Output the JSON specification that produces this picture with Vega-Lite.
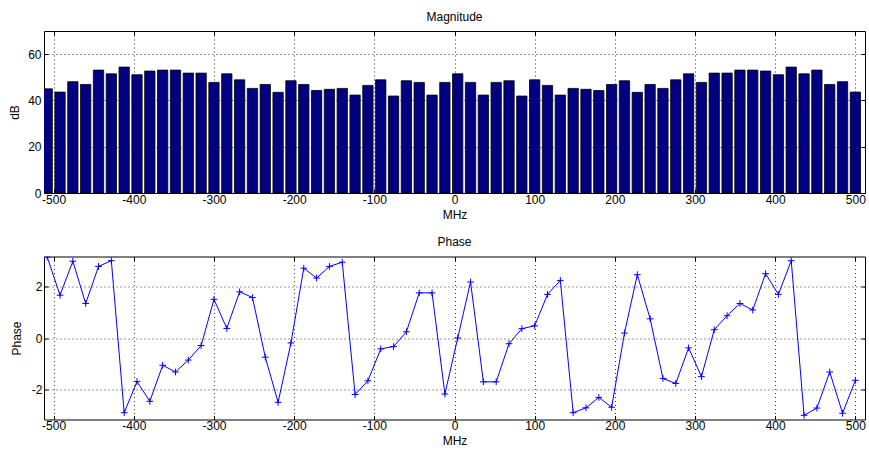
{
  "$schema": "https://vega.github.io/schema/vega-lite/v6.json",
  "background": "white",
  "padding": {"left": 8, "top": 10, "right": 0, "bottom": 2},
  "spacing": 63.5,
  "bounds": "flush",
  "config": {
    "font": "Liberation Sans",
    "view": {"stroke": "black", "strokeWidth": 1},
    "axis": {
      "labelFont": "Liberation Sans", "labelFontSize": 12, "labelColor": "black",
      "labelExpr": "replace(datum.label, '\u2212', '-')",
      "titleFont": "Liberation Sans", "titleFontSize": 12, "titleFontWeight": "normal", "titleColor": "black",
      "domain": false,
      "ticks": true, "tickSize": -4, "tickColor": "black", "tickWidth": 1,
      "grid": true, "gridColor": "black", "gridDash": [1, 3], "gridWidth": 1, "gridOpacity": 0.8,
      "labelPadding": 6
    },
    "title": {"font": "Liberation Sans", "fontSize": 12, "fontWeight": "normal", "color": "black", "offset": 7, "baseline": "alphabetic", "frame": "group", "anchor": "middle"}
  },
  "datasets": {
    "mag": [
      {"mhz": -508, "db": 45.0}, {"mhz": -492, "db": 43.6}, {"mhz": -476, "db": 48.1}, {"mhz": -460, "db": 46.9},
      {"mhz": -444, "db": 53.1}, {"mhz": -428, "db": 51.5}, {"mhz": -412, "db": 54.4}, {"mhz": -396, "db": 51.1},
      {"mhz": -380, "db": 52.7}, {"mhz": -364, "db": 53.1}, {"mhz": -348, "db": 53.1}, {"mhz": -332, "db": 51.8},
      {"mhz": -316, "db": 51.8}, {"mhz": -300, "db": 47.8}, {"mhz": -284, "db": 51.5}, {"mhz": -268, "db": 48.9},
      {"mhz": -252, "db": 45.2}, {"mhz": -236, "db": 46.9}, {"mhz": -220, "db": 43.5}, {"mhz": -204, "db": 48.5},
      {"mhz": -188, "db": 46.9}, {"mhz": -172, "db": 44.3}, {"mhz": -156, "db": 44.8}, {"mhz": -140, "db": 45.2},
      {"mhz": -124, "db": 42.3}, {"mhz": -108, "db": 46.5}, {"mhz": -92, "db": 48.9}, {"mhz": -76, "db": 41.9},
      {"mhz": -60, "db": 48.5}, {"mhz": -44, "db": 47.8}, {"mhz": -28, "db": 42.3}, {"mhz": -12, "db": 47.8},
      {"mhz": 4, "db": 51.5}, {"mhz": 20, "db": 47.8}, {"mhz": 36, "db": 42.3}, {"mhz": 52, "db": 47.8},
      {"mhz": 68, "db": 48.5}, {"mhz": 84, "db": 41.9}, {"mhz": 100, "db": 48.9}, {"mhz": 116, "db": 46.5},
      {"mhz": 132, "db": 42.3}, {"mhz": 148, "db": 45.2}, {"mhz": 164, "db": 44.8}, {"mhz": 180, "db": 44.3},
      {"mhz": 196, "db": 46.9}, {"mhz": 212, "db": 48.5}, {"mhz": 228, "db": 43.5}, {"mhz": 244, "db": 46.9},
      {"mhz": 260, "db": 45.2}, {"mhz": 276, "db": 48.9}, {"mhz": 292, "db": 51.5}, {"mhz": 308, "db": 47.8},
      {"mhz": 324, "db": 51.8}, {"mhz": 340, "db": 51.8}, {"mhz": 356, "db": 53.1}, {"mhz": 372, "db": 53.1},
      {"mhz": 388, "db": 52.7}, {"mhz": 404, "db": 51.1}, {"mhz": 420, "db": 54.4}, {"mhz": 436, "db": 51.5},
      {"mhz": 452, "db": 53.1}, {"mhz": 468, "db": 46.9}, {"mhz": 484, "db": 48.1}, {"mhz": 500, "db": 43.6}
    ],
    "phase": [
      {"mhz": -508, "phase": 3.12}, {"mhz": -492, "phase": 1.65}, {"mhz": -476, "phase": 2.96}, {"mhz": -460, "phase": 1.33},
      {"mhz": -444, "phase": 2.76}, {"mhz": -428, "phase": 2.98}, {"mhz": -412, "phase": -2.88}, {"mhz": -396, "phase": -1.68},
      {"mhz": -380, "phase": -2.44}, {"mhz": -364, "phase": -1.05}, {"mhz": -348, "phase": -1.31}, {"mhz": -332, "phase": -0.85},
      {"mhz": -316, "phase": -0.29}, {"mhz": -300, "phase": 1.49}, {"mhz": -284, "phase": 0.37}, {"mhz": -268, "phase": 1.78},
      {"mhz": -252, "phase": 1.56}, {"mhz": -236, "phase": -0.74}, {"mhz": -220, "phase": -2.48}, {"mhz": -204, "phase": -0.19},
      {"mhz": -188, "phase": 2.69}, {"mhz": -172, "phase": 2.31}, {"mhz": -156, "phase": 2.76}, {"mhz": -140, "phase": 2.92},
      {"mhz": -124, "phase": -2.18}, {"mhz": -108, "phase": -1.65}, {"mhz": -92, "phase": -0.42}, {"mhz": -76, "phase": -0.33},
      {"mhz": -60, "phase": 0.24}, {"mhz": -44, "phase": 1.74}, {"mhz": -28, "phase": 1.74}, {"mhz": -12, "phase": -2.16},
      {"mhz": 4, "phase": 0.0}, {"mhz": 20, "phase": 2.16}, {"mhz": 36, "phase": -1.69}, {"mhz": 52, "phase": -1.69},
      {"mhz": 68, "phase": -0.22}, {"mhz": 84, "phase": 0.36}, {"mhz": 100, "phase": 0.47}, {"mhz": 116, "phase": 1.68},
      {"mhz": 132, "phase": 2.22}, {"mhz": 148, "phase": -2.88}, {"mhz": 164, "phase": -2.69}, {"mhz": 180, "phase": -2.29},
      {"mhz": 196, "phase": -2.67}, {"mhz": 212, "phase": 0.19}, {"mhz": 228, "phase": 2.44}, {"mhz": 244, "phase": 0.74},
      {"mhz": 260, "phase": -1.56}, {"mhz": 276, "phase": -1.75}, {"mhz": 292, "phase": -0.38}, {"mhz": 308, "phase": -1.49},
      {"mhz": 324, "phase": 0.32}, {"mhz": 340, "phase": 0.86}, {"mhz": 356, "phase": 1.33}, {"mhz": 372, "phase": 1.08},
      {"mhz": 388, "phase": 2.48}, {"mhz": 404, "phase": 1.68}, {"mhz": 420, "phase": 2.98}, {"mhz": 436, "phase": -2.98},
      {"mhz": 452, "phase": -2.70}, {"mhz": 468, "phase": -1.31}, {"mhz": 484, "phase": -2.90}, {"mhz": 500, "phase": -1.63}
    ]
  },
  "vconcat": [
    {
      "title": "Magnitude",
      "width": 821,
      "height": 162,
      "data": {"name": "mag"},
      "encoding": {
        "x": {"field": "mhz", "type": "quantitative",
              "scale": {"domain": [-512, 512], "nice": false, "zero": false, "padding": 0},
              "axis": {"values": [-500, -400, -300, -200, -100, 0, 100, 200, 300, 400, 500], "title": "MHz", "titlePadding": 4, "labelPadding": 5}},
        "y": {"field": "db", "type": "quantitative",
              "scale": {"domain": [0, 70], "nice": false, "padding": 0},
              "axis": {"values": [0, 20, 40, 60], "title": "dB", "titlePadding": 6, "labelPadding": 7}}
      },
      "layer": [
        {"mark": {"type": "bar", "orient": "vertical", "size": 10.3, "fill": "#000080", "stroke": "#000000", "strokeWidth": 0.8, "clip": true}},
        {"mark": {"type": "bar", "orient": "vertical", "size": 10.3, "opacity": 0, "clip": true},
         "encoding": {
           "x": {"field": "mhz", "type": "quantitative",
                 "axis": {"orient": "top", "values": [-500, -400, -300, -200, -100, 0, 100, 200, 300, 400, 500], "labels": false, "grid": false, "title": null, "labelPadding": 0, "titlePadding": 0}},
           "y": {"field": "db", "type": "quantitative",
                 "axis": {"orient": "right", "values": [0, 20, 40, 60], "labels": false, "grid": false, "title": null, "labelPadding": 0, "titlePadding": 0}}
         }}
      ],
      "resolve": {"axis": {"x": "independent", "y": "independent"}}
    },
    {
      "title": "Phase",
      "width": 821,
      "height": 163,
      "data": {"name": "phase"},
      "encoding": {
        "x": {"field": "mhz", "type": "quantitative",
              "scale": {"domain": [-512, 512], "nice": false, "zero": false, "padding": 0},
              "axis": {"values": [-500, -400, -300, -200, -100, 0, 100, 200, 300, 400, 500], "title": "MHz", "titlePadding": 4, "labelPadding": 5}},
        "y": {"field": "phase", "type": "quantitative",
              "scale": {"domain": [-3.14159, 3.14159], "nice": false, "zero": false},
              "axis": {"values": [-2, 0, 2], "title": "Phase", "titlePadding": 8, "labelPadding": 6}}
      },
      "layer": [
        {"mark": {"type": "line", "color": "#0000ff", "strokeWidth": 1, "clip": true}},
        {"mark": {"type": "point", "shape": "M-1,0L1,0M0,-1L0,1", "size": 45, "filled": false, "stroke": "#0000ff", "strokeWidth": 1, "opacity": 1, "clip": true},
         "encoding": {
           "x": {"field": "mhz", "type": "quantitative",
                 "axis": {"orient": "top", "values": [-500, -400, -300, -200, -100, 0, 100, 200, 300, 400, 500], "labels": false, "grid": false, "title": null, "labelPadding": 0, "titlePadding": 0}},
           "y": {"field": "phase", "type": "quantitative",
                 "axis": {"orient": "right", "values": [-2, 0, 2], "labels": false, "grid": false, "title": null, "labelPadding": 0, "titlePadding": 0}}
         }}
      ],
      "resolve": {"axis": {"x": "independent", "y": "independent"}}
    }
  ]
}
